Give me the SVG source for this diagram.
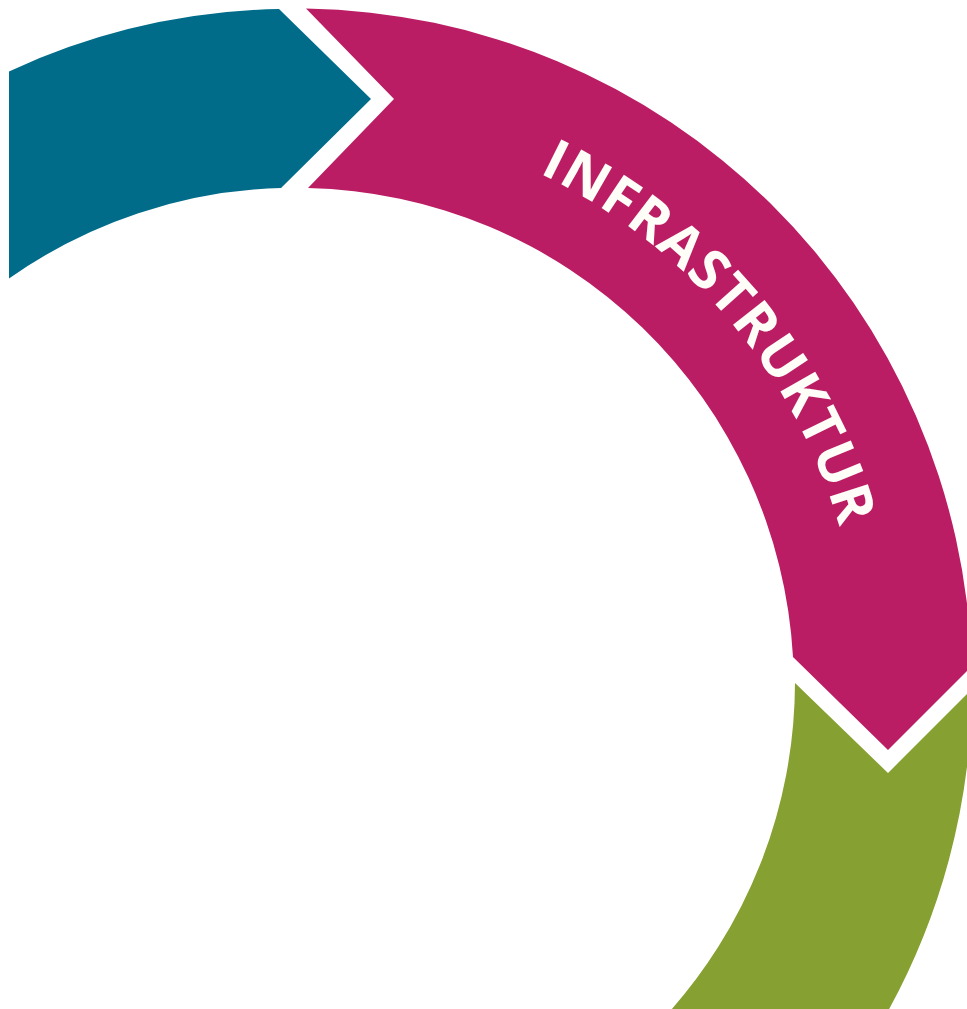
<svg xmlns="http://www.w3.org/2000/svg" xmlns:xlink="http://www.w3.org/1999/xlink" width="967" height="1009" viewBox="0 0 967 1009">
  <style>
    .teal { fill: #016C8A; }
    .magenta { fill: #BB1D64; }
    .green { fill: #86A031; }
    .label { font-family: "Open Sans", "Liberation Sans", sans-serif; font-weight: 700; font-size: 56px; fill: #FFFDF7; }
  </style>
  <defs>
    <path id="textArc" d="M 539.1,173.2 A 567 567 0 0 1 862,685"/>
  </defs>
  <rect width="967" height="1009" fill="#FFFFFF"/>
  <g id="segment-teal">
    <path class="teal" d="M 9,71.4 A 677 677 0 0 1 279,9 L 371,99 L 281,188 A 497 497 0 0 0 9,278.5 Z"/>
  </g>
  <g id="segment-infrastruktur">
    <path class="magenta" d="M 306,8.5 A 677 677 0 0 1 971.7,666.3 L 888,750 L 793,657 A 497 497 0 0 0 308,188 L 394,99 Z"/>
    <text class="label"><textPath xlink:href="#textArc" href="#textArc" textLength="478" lengthAdjust="spacing">INFRASTRUKTUR</textPath></text>
  </g>
  <g id="segment-green">
    <path class="green" d="M 795,683 L 888,773 L 972,689 A 677 677 0 0 1 883,1020 L 662,1020 A 497 497 0 0 0 795,683 Z"/>
  </g>
  <g id="connectors"></g>
</svg>
